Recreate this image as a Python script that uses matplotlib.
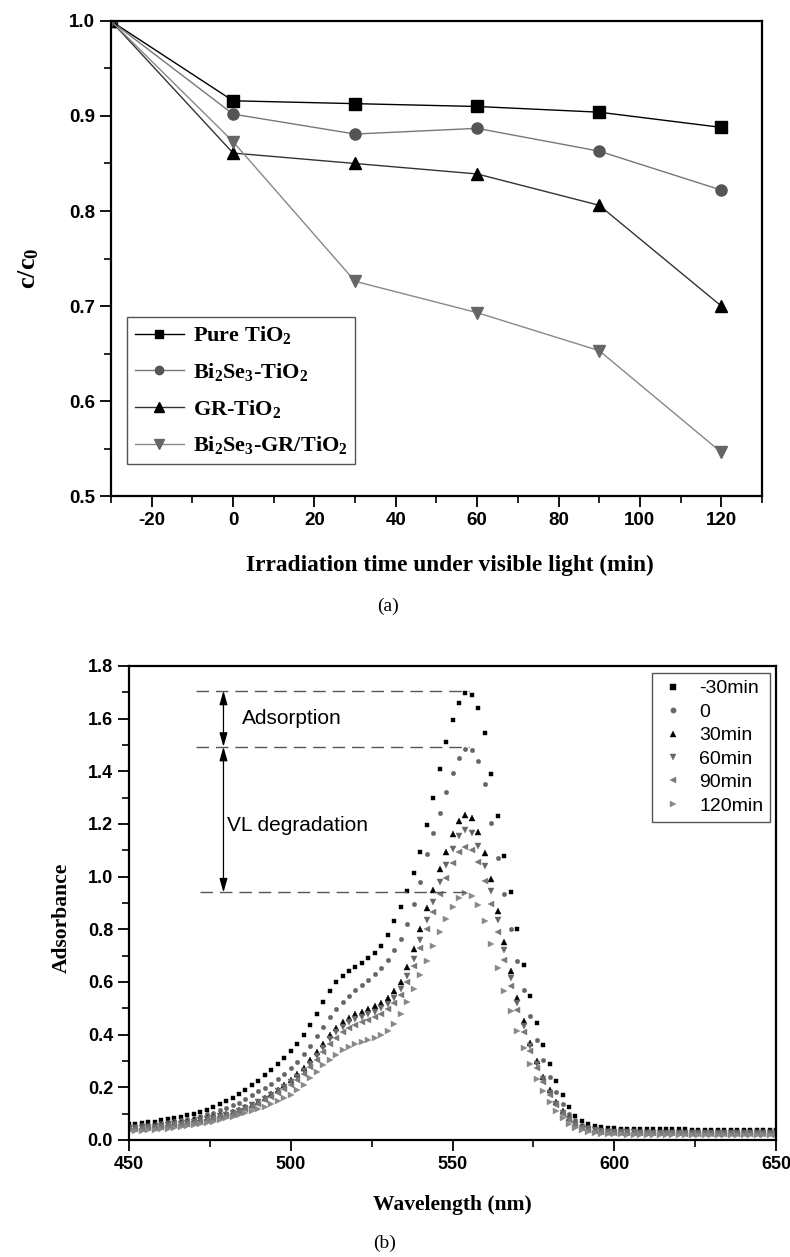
import matplotlib
matplotlib.use('Agg')
import matplotlib.pyplot as plt
from matplotlib.ticker import MultipleLocator

plt.rcParams['font.family'] = 'Liberation Sans'
plt.rcParams['font.weight'] = 'bold'
plt.rcParams['axes.unicode_minus'] = False
plt.rcParams['mathtext.fontset'] = 'custom'
plt.rcParams['mathtext.rm'] = 'Liberation Serif:bold'
plt.rcParams['mathtext.it'] = 'Liberation Serif:bold'
plt.rcParams['mathtext.bf'] = 'Liberation Serif:bold'

# ---- (a) c/c0 vs irradiation time ----
time_min = [-30, 0, 30, 60, 90, 120]
pure_tio2 = [1.0, 0.916, 0.913, 0.910, 0.904, 0.888]
bi2se3_tio2 = [1.0, 0.902, 0.881, 0.887, 0.863, 0.822]
gr_tio2 = [1.0, 0.861, 0.850, 0.839, 0.806, 0.700]
bi2se3_gr_tio2 = [1.0, 0.873, 0.726, 0.693, 0.653, 0.546]

# ---- (b) absorbance spectra, 450-650 nm every 2 nm ----
wavelength = list(range(450, 651, 2))
abs_m30 = [0.060, 0.062, 0.064, 0.067, 0.070, 0.074, 0.078, 0.083, 0.088, 0.094,
           0.100, 0.107, 0.115, 0.124, 0.135, 0.147, 0.160, 0.174, 0.190, 0.207,
           0.225, 0.245, 0.266, 0.288, 0.312, 0.337, 0.365, 0.398, 0.437, 0.480,
           0.525, 0.565, 0.598, 0.622, 0.640, 0.656,
           0.672, 0.690, 0.710, 0.738, 0.780, 0.830, 0.885, 0.945, 1.015, 1.095,
           1.195, 1.300, 1.410, 1.510, 1.595, 1.660, 1.698, 1.690, 1.640, 1.545,
           1.390, 1.230, 1.080, 0.940, 0.800, 0.665, 0.545, 0.445, 0.360, 0.290,
           0.225, 0.170, 0.125, 0.092, 0.072, 0.060, 0.053, 0.049, 0.046, 0.044,
           0.043, 0.042, 0.042, 0.041, 0.041, 0.041, 0.040, 0.040, 0.040, 0.040,
           0.040, 0.039, 0.039, 0.039, 0.039, 0.039, 0.039, 0.039, 0.039, 0.039,
           0.039, 0.039, 0.039, 0.039, 0.039]
abs_0 = [0.052, 0.054, 0.056, 0.058, 0.061, 0.064, 0.067, 0.071, 0.075, 0.080,
         0.085, 0.091, 0.097, 0.104, 0.112, 0.121, 0.131, 0.142, 0.154, 0.169,
         0.185, 0.199, 0.214, 0.231, 0.250, 0.272, 0.297, 0.326, 0.358, 0.393,
         0.430, 0.466, 0.498, 0.525, 0.548, 0.568,
         0.588, 0.608, 0.630, 0.654, 0.685, 0.722, 0.765, 0.820, 0.895, 0.980,
         1.085, 1.165, 1.240, 1.320, 1.395, 1.450, 1.484, 1.482, 1.440, 1.350,
         1.205, 1.070, 0.935, 0.800, 0.680, 0.570, 0.470, 0.380, 0.305, 0.240,
         0.183, 0.136, 0.099, 0.074, 0.058, 0.048, 0.042, 0.038, 0.036, 0.035,
         0.034, 0.034, 0.033, 0.033, 0.033, 0.032, 0.032, 0.032, 0.032, 0.032,
         0.032, 0.032, 0.031, 0.031, 0.031, 0.031, 0.031, 0.031, 0.031, 0.031,
         0.031, 0.031, 0.031, 0.031, 0.031]
abs_30 = [0.048, 0.049, 0.051, 0.053, 0.055, 0.057, 0.060, 0.063, 0.066, 0.070,
          0.074, 0.078, 0.083, 0.088, 0.094, 0.100, 0.107, 0.115, 0.124, 0.134,
          0.145, 0.158, 0.173, 0.190, 0.208, 0.228, 0.250, 0.274, 0.302, 0.333,
          0.365, 0.397, 0.425, 0.447, 0.464, 0.477,
          0.487, 0.497, 0.508, 0.522, 0.540, 0.565, 0.600, 0.655, 0.725, 0.800,
          0.880, 0.950, 1.030, 1.095, 1.160, 1.213, 1.234, 1.222, 1.170, 1.090,
          0.990, 0.870, 0.750, 0.640, 0.540, 0.450, 0.370, 0.300, 0.240, 0.188,
          0.145, 0.110, 0.082, 0.062, 0.050, 0.043, 0.039, 0.036, 0.034, 0.033,
          0.032, 0.032, 0.032, 0.031, 0.031, 0.031, 0.031, 0.031, 0.030, 0.030,
          0.030, 0.030, 0.030, 0.030, 0.030, 0.030, 0.030, 0.030, 0.030, 0.030,
          0.030, 0.030, 0.030, 0.030, 0.030]
abs_60 = [0.044, 0.045, 0.047, 0.049, 0.051, 0.053, 0.056, 0.059, 0.062, 0.066,
          0.070, 0.074, 0.079, 0.084, 0.090, 0.096, 0.103, 0.111, 0.120, 0.131,
          0.144, 0.156, 0.170, 0.186, 0.202, 0.220, 0.240, 0.263, 0.290, 0.320,
          0.351, 0.382, 0.409, 0.430, 0.447, 0.459,
          0.468, 0.477, 0.487, 0.500, 0.517, 0.540, 0.573, 0.622, 0.688, 0.760,
          0.835, 0.905, 0.980, 1.045, 1.105, 1.155, 1.177, 1.165, 1.115, 1.040,
          0.945, 0.835, 0.720, 0.615, 0.520, 0.433, 0.356, 0.288, 0.230, 0.180,
          0.138, 0.104, 0.078, 0.059, 0.047, 0.040, 0.036, 0.033, 0.031, 0.030,
          0.029, 0.029, 0.029, 0.028, 0.028, 0.028, 0.028, 0.028, 0.028, 0.028,
          0.027, 0.027, 0.027, 0.027, 0.027, 0.027, 0.027, 0.027, 0.027, 0.027,
          0.027, 0.027, 0.027, 0.027, 0.027]
abs_90 = [0.040, 0.041, 0.043, 0.045, 0.047, 0.049, 0.052, 0.055, 0.058, 0.062,
          0.066, 0.070, 0.075, 0.080, 0.086, 0.092, 0.099, 0.107, 0.116, 0.126,
          0.138, 0.150, 0.163, 0.177, 0.192, 0.209, 0.228, 0.250, 0.276, 0.305,
          0.335, 0.364, 0.389, 0.409, 0.425, 0.437,
          0.447, 0.456, 0.466, 0.479, 0.496, 0.519, 0.552, 0.600, 0.662, 0.730,
          0.800, 0.865, 0.935, 0.995, 1.050, 1.095, 1.114, 1.102, 1.055, 0.985,
          0.895, 0.790, 0.682, 0.583, 0.493, 0.411, 0.338, 0.274, 0.219, 0.171,
          0.131, 0.099, 0.074, 0.056, 0.044, 0.037, 0.033, 0.030, 0.028, 0.027,
          0.026, 0.026, 0.026, 0.025, 0.025, 0.025, 0.025, 0.025, 0.025, 0.025,
          0.024, 0.024, 0.024, 0.024, 0.024, 0.024, 0.024, 0.024, 0.024, 0.024,
          0.024, 0.024, 0.024, 0.024, 0.024]
abs_120 = [0.033, 0.034, 0.035, 0.037, 0.039, 0.041, 0.043, 0.046, 0.049, 0.052,
           0.056, 0.060, 0.065, 0.070, 0.076, 0.082, 0.088, 0.094, 0.101, 0.109,
           0.117, 0.126, 0.136, 0.147, 0.158, 0.170, 0.188, 0.210, 0.235, 0.260,
           0.284, 0.305, 0.324, 0.340, 0.353, 0.364,
           0.373, 0.381, 0.389, 0.399, 0.414, 0.440, 0.478, 0.525, 0.575, 0.625,
           0.680, 0.735, 0.790, 0.840, 0.885, 0.920, 0.937, 0.928, 0.893, 0.832,
           0.745, 0.652, 0.565, 0.488, 0.415, 0.348, 0.288, 0.233, 0.185, 0.144,
           0.110, 0.082, 0.061, 0.046, 0.036, 0.030, 0.026, 0.024, 0.022, 0.021,
           0.021, 0.020, 0.020, 0.020, 0.020, 0.019, 0.019, 0.019, 0.019, 0.019,
           0.019, 0.018, 0.018, 0.018, 0.018, 0.018, 0.018, 0.018, 0.018, 0.018,
           0.018, 0.018, 0.018, 0.018, 0.018]

# annotation levels in (b)
peak_nm = 555
level_top = 1.706
level_mid = 1.493
level_low = 0.940

fig = plt.figure(figsize=(7.9, 12.57), dpi=100)

serif = 'Liberation Serif'

def style_axes(ax):
    for sp in ax.spines.values():
        sp.set_linewidth(1.6)
    ax.tick_params(which='major', direction='out', length=8, width=1.3,
                   labelsize=13, top=False, right=False)
    ax.tick_params(which='minor', direction='out', length=5, width=1.2,
                   top=False, right=False)

# panel (a)
ax1 = fig.add_axes([0.1405, 0.6054, 0.824, 0.3779])
ax1.plot(time_min, pure_tio2, color='black', lw=1.0, marker='s', ms=8,
         mfc='black', mec='black', label=r'Pure TiO$_2$')
ax1.plot(time_min, bi2se3_tio2, color='#777777', lw=1.0, marker='o', ms=8,
         mfc='#555555', mec='#555555', label=r'Bi$_2$Se$_3$-TiO$_2$')
ax1.plot(time_min, gr_tio2, color='#333333', lw=1.0, marker='^', ms=9,
         mfc='black', mec='black', label=r'GR-TiO$_2$')
ax1.plot(time_min, bi2se3_gr_tio2, color='#888888', lw=1.0, marker='v', ms=9,
         mfc='#666666', mec='#666666', label=r'Bi$_2$Se$_3$-GR/TiO$_2$')
ax1.set_xlim(-30, 130)
ax1.set_ylim(0.5, 1.0)
ax1.xaxis.set_major_locator(MultipleLocator(20))
ax1.xaxis.set_minor_locator(MultipleLocator(10))
ax1.yaxis.set_major_locator(MultipleLocator(0.1))
ax1.yaxis.set_minor_locator(MultipleLocator(0.05))
ax1.set_xticks([-20, 0, 20, 40, 60, 80, 100, 120])
style_axes(ax1)
ax1.tick_params(which='major', labelsize=13.5)
ax1.set_xlabel('Irradiation time under visible light (min)', family=serif,
               weight='bold', fontsize=16.8)
ax1.xaxis.set_label_coords(0.52, -0.124)
ax1.set_ylabel(r'c/c$_0$', family=serif, weight='bold', fontsize=19)
ax1.yaxis.set_label_coords(-0.107, 0.48)
leg1 = ax1.legend(loc='lower left', bbox_to_anchor=(0.0246, 0.067),
                  borderaxespad=0, prop={'family': serif, 'weight': 'bold', 'size': 16},
                  handlelength=2.2, labelspacing=0.66, borderpad=0.35,
                  handletextpad=0.4, fancybox=False, edgecolor='#555555',
                  framealpha=1, markerscale=0.75)
leg1.get_frame().set_linewidth(1.0)
fig.text(388 / 790, 1 - 606 / 1257, '(a)', family=serif, weight='normal',
         fontsize=14, ha='center', va='center')

# panel (b)
ax2 = fig.add_axes([0.1633, 0.0931, 0.819, 0.3771])
series_b = [
    (abs_m30, 's', 'black', 3.2, '-30min'),
    (abs_0, 'o', '#666666', 3.2, '0'),
    (abs_30, '^', 'black', 3.8, '30min'),
    (abs_60, 'v', '#666666', 3.8, '60min'),
    (abs_90, '<', '#777777', 3.8, '90min'),
    (abs_120, '>', '#888888', 3.8, '120min'),
]
for vals, mk, col, size, lab in series_b:
    ax2.plot(wavelength, vals, ls='none', marker=mk, ms=size, mfc=col,
             mec=col, mew=0.3, label=lab)

dash_col = '#555555'
ax2.plot([470.7, peak_nm], [level_top, level_top], color=dash_col, lw=1.0,
         dashes=(9, 5))
ax2.plot([470.7, peak_nm], [level_mid, level_mid], color=dash_col, lw=1.0,
         dashes=(9, 5))
ax2.plot([472.0, peak_nm], [level_low, level_low], color=dash_col, lw=1.0,
         dashes=(9, 5))
arrow_kw = dict(arrowstyle='<|-|>,head_length=0.7,head_width=0.2', color='black',
                lw=0.9, shrinkA=0, shrinkB=0, mutation_scale=12)
ax2.annotate('', xy=(479.2, level_top), xytext=(479.2, level_mid), arrowprops=arrow_kw)
ax2.annotate('', xy=(479.2, level_mid), xytext=(479.2, level_low), arrowprops=arrow_kw)
ax2.text(484.8, 1.60, 'Adsorption', fontsize=15, weight='normal', ha='left', va='center')
ax2.text(480.2, 1.196, 'VL degradation', fontsize=15, weight='normal', ha='left', va='center')

ax2.set_xlim(450, 650)
ax2.set_ylim(0, 1.8)
ax2.xaxis.set_major_locator(MultipleLocator(50))
ax2.xaxis.set_minor_locator(MultipleLocator(25))
ax2.yaxis.set_major_locator(MultipleLocator(0.2))
ax2.yaxis.set_minor_locator(MultipleLocator(0.1))
style_axes(ax2)
ax2.set_xlabel('Wavelength (nm)', family=serif, weight='bold', fontsize=15.5)
ax2.xaxis.set_label_coords(0.5, -0.116)
ax2.set_ylabel('Adsorbance', family=serif, weight='bold', fontsize=15.5)
ax2.yaxis.set_label_coords(-0.088, 0.468)
leg2 = ax2.legend(loc='upper right', bbox_to_anchor=(0.991, 0.985),
                  borderaxespad=0, prop={'weight': 'normal', 'size': 14},
                  handlelength=1.5, labelspacing=0.3, borderpad=0.35,
                  handletextpad=0.6, fancybox=False, edgecolor='#555555',
                  framealpha=1, markerscale=1.2)
leg2.get_frame().set_linewidth(1.0)
fig.text(385 / 790, 1 - 1243 / 1257, '(b)', family=serif, weight='normal',
         fontsize=14, ha='center', va='center')

fig.savefig('out.png', dpi=100)
